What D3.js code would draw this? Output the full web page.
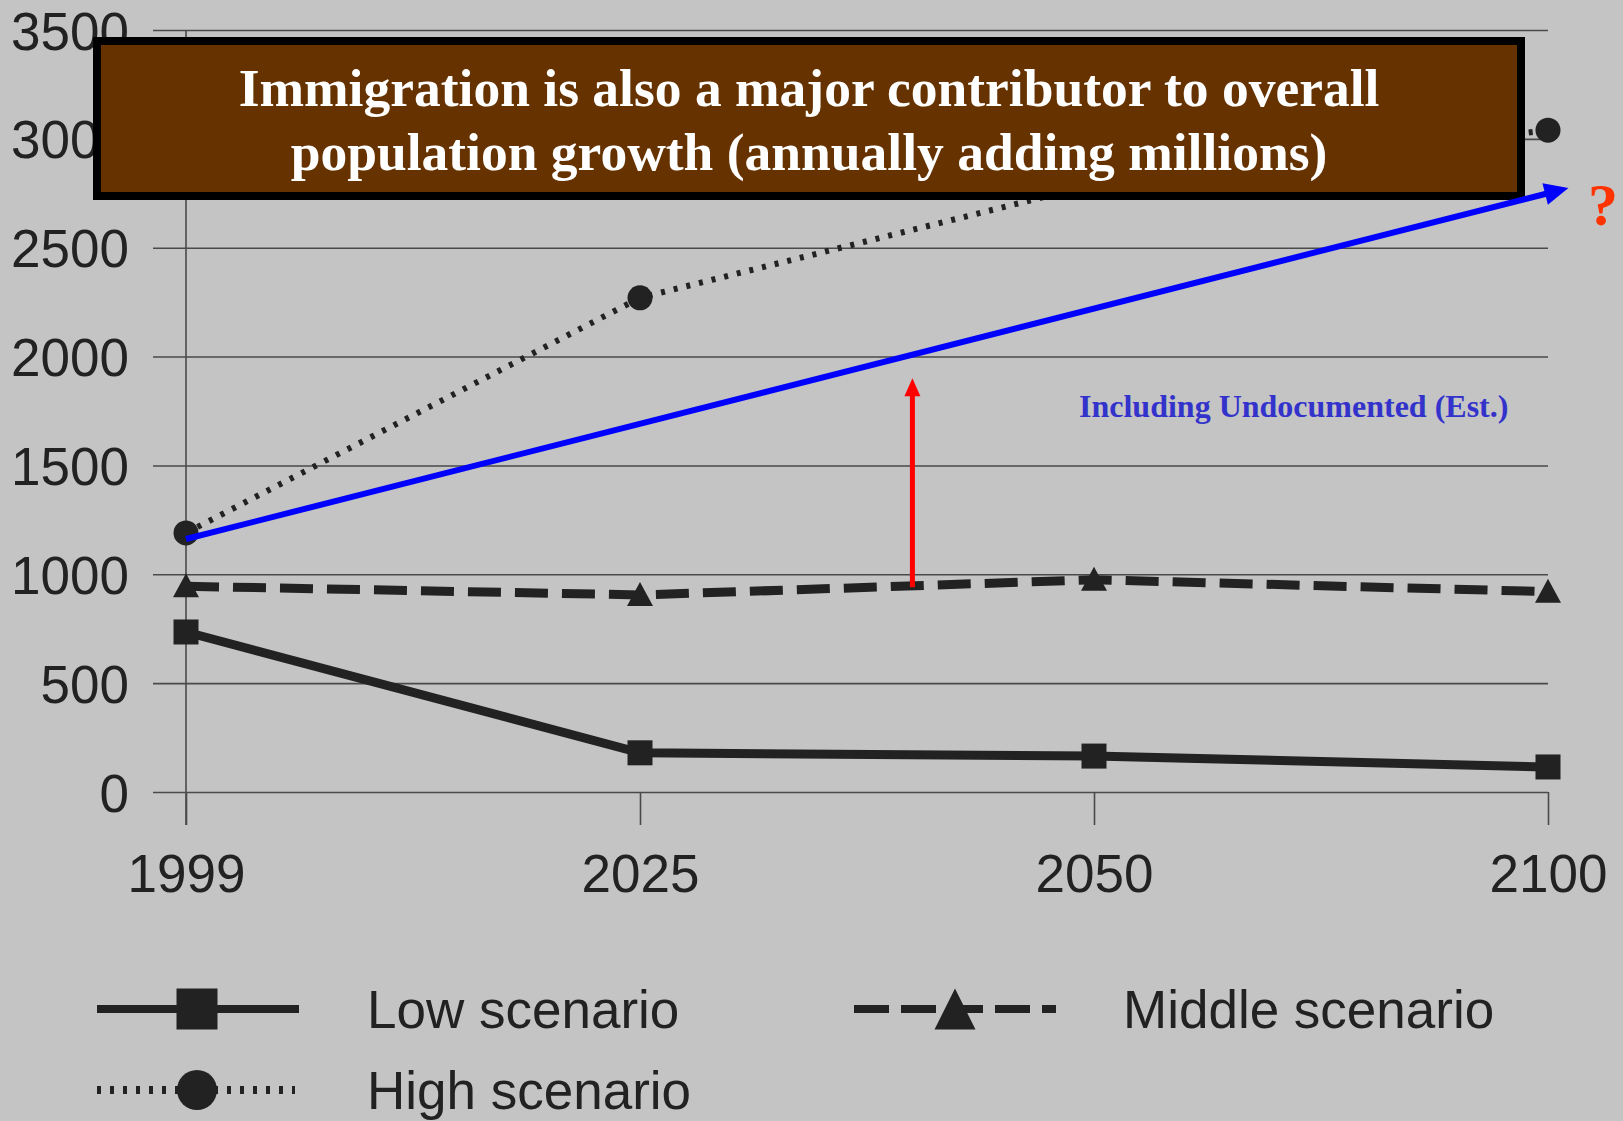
<!DOCTYPE html>
<html>
<head>
<meta charset="utf-8">
<script src="https://cdn.jsdelivr.net/npm/d3@7"></script>
<style>
  html, body { margin: 0; padding: 0; background: #c4c4c4; }
  svg { display: block; }
</style>
</head>
<body>
<svg id="chart" width="1623" height="1121"></svg>
<script>
// Projection years and scenario values
const years = ["1999", "2025", "2050", "2100"];
const lowScenario = [735, 180, 165, 115];
const middleScenario = [945, 905, 975, 920];
const highScenario = [1190, 2270, 2790, 3040];
const yTicks = [0, 500, 1000, 1500, 2000, 2500, 3000, 3500];

// Annotation arrows, in (year index, value) terms
const undocumentedArrow = [{ i: 0, v: 1162 }, { i: 3.045, v: 2774 }];
const gapArrow = [{ i: 1.6, v: 940 }, { i: 1.6, v: 1900 }];

const titleLines = [
  "Immigration is also a major contributor to overall",
  "population growth (annually adding millions)"
];
const noteText = "Including Undocumented (Est.)";
const legendItems = [
  { name: "Low scenario", key: "low" },
  { name: "Middle scenario", key: "mid" },
  { name: "High scenario", key: "high" }
];

const svg = d3.select("#chart");
const ink = "#222";
const sans = "'Liberation Sans', Arial, sans-serif";
const serif = "'Liberation Serif', 'Times New Roman', serif";

const x = d3.scalePoint().domain(years).range([186, 1548]);
const xi = d3.scaleLinear().domain([0, years.length - 1]).range([186, 1548]);
const y = d3.scaleLinear().domain([0, 3500]).range([792, 30]);

// Gridlines
const grid = svg.append("g").attr("transform", "translate(153,0)")
  .call(d3.axisRight(y).tickValues(yTicks).tickSize(1548 - 153).tickFormat(""));
grid.select(".domain").remove();
grid.selectAll(".tick line").attr("stroke", "#4a4a4a").attr("stroke-width", 1.6);

// Y labels
const yLab = svg.append("g").attr("transform", "translate(153,0)")
  .call(d3.axisLeft(y).tickValues(yTicks).tickSize(0).tickPadding(24).tickFormat(d3.format("d")));
yLab.select(".domain").remove();
yLab.selectAll("text")
  .attr("font-family", sans).attr("font-size", 53).attr("fill", ink).attr("dy", "0.36em");

// Vertical axis line
svg.append("line")
  .attr("x1", 186).attr("x2", 186).attr("y1", y(3500)).attr("y2", 825)
  .attr("stroke", "#4a4a4a").attr("stroke-width", 1.6);

// X axis ticks and labels
const xAx = svg.append("g").attr("transform", `translate(0,${y(0)})`)
  .call(d3.axisBottom(x).tickSize(33).tickPadding(29));
xAx.select(".domain").remove();
xAx.selectAll(".tick line").attr("stroke", "#4a4a4a").attr("stroke-width", 1.6);
xAx.selectAll("text").attr("font-family", sans).attr("font-size", 53).attr("fill", ink);

// Series
const line = d3.line().x((d, i) => x(years[i])).y(d => y(d));

function squareAt(g, cx, cy, s) {
  g.append("rect").attr("x", cx - s / 2).attr("y", cy - s / 2)
    .attr("width", s).attr("height", s).attr("fill", ink);
}
function triangleAt(g, cx, cy, w, h) {
  g.append("path")
    .attr("d", `M${cx},${cy - h / 2}L${cx + w / 2},${cy + h / 2}L${cx - w / 2},${cy + h / 2}Z`)
    .attr("fill", ink);
}
function circleAt(g, cx, cy, r) {
  g.append("circle").attr("cx", cx).attr("cy", cy).attr("r", r).attr("fill", ink);
}

const series = svg.append("g");
series.append("path").datum(highScenario).attr("d", line)
  .attr("fill", "none").attr("stroke", ink).attr("stroke-width", 6)
  .attr("stroke-dasharray", "4,9");
series.append("path").datum(middleScenario).attr("d", line)
  .attr("fill", "none").attr("stroke", ink).attr("stroke-width", 9)
  .attr("stroke-dasharray", "33,14");
series.append("path").datum(lowScenario).attr("d", line)
  .attr("fill", "none").attr("stroke", ink).attr("stroke-width", 9);

highScenario.forEach((v, i) => circleAt(series, x(years[i]), y(v), 12.5));
middleScenario.forEach((v, i) => triangleAt(series, x(years[i]), y(v) - 1, 26, 24));
lowScenario.forEach((v, i) => squareAt(series, x(years[i]), y(v), 25));

// Title box
svg.append("rect")
  .attr("x", 97).attr("y", 41).attr("width", 1424).attr("height", 155)
  .attr("fill", "#663300").attr("stroke", "#000").attr("stroke-width", 8);
svg.append("g").selectAll("text").data(titleLines).join("text")
  .attr("x", 809).attr("y", (d, i) => 106 + i * 64)
  .attr("text-anchor", "middle")
  .attr("font-family", serif).attr("font-weight", "bold").attr("font-size", 53.5)
  .attr("fill", "#fff")
  .text(d => d);

// Arrow helper
function arrow(pts, color, width, headLen, headW) {
  const x1 = xi(pts[0].i), y1 = y(pts[0].v), x2 = xi(pts[1].i), y2 = y(pts[1].v);
  const ang = Math.atan2(y2 - y1, x2 - x1);
  const bx = x2 - headLen * Math.cos(ang), by = y2 - headLen * Math.sin(ang);
  const px = -Math.sin(ang) * headW / 2, py = Math.cos(ang) * headW / 2;
  svg.append("line").attr("x1", x1).attr("y1", y1)
    .attr("x2", bx + Math.cos(ang)).attr("y2", by + Math.sin(ang))
    .attr("stroke", color).attr("stroke-width", width);
  svg.append("path")
    .attr("d", `M${x2},${y2}L${bx + px},${by + py}L${bx - px},${by - py}Z`)
    .attr("fill", color);
}
arrow(undocumentedArrow, "#0000ff", 6, 24, 22);
arrow(gapArrow, "#ff0000", 5, 18, 16);

// Note text
svg.append("text")
  .attr("x", 1079).attr("y", 417)
  .attr("font-family", serif).attr("font-weight", "bold").attr("font-size", 32)
  .attr("fill", "#3333cc")
  .text(noteText);

svg.append("text")
  .attr("x", 1588).attr("y", 225)
  .attr("font-family", serif).attr("font-weight", "bold").attr("font-size", 60)
  .attr("fill", "#ff3300")
  .text("?");

// Legend
const legendPos = {
  low: { x0: 97, x1: 299, cy: 1009, tx: 367, mx: 197 },
  mid: { x0: 854, x1: 1056, cy: 1009, tx: 1123, mx: 955 },
  high: { x0: 97, x1: 295, cy: 1090, tx: 367, mx: 197 }
};
const legend = svg.append("g");
legendItems.forEach(item => {
  const p = legendPos[item.key];
  const ln = legend.append("line").attr("x1", p.x0).attr("x2", p.x1)
    .attr("y1", p.cy).attr("y2", p.cy).attr("stroke", ink).attr("stroke-width", 8);
  if (item.key === "low") {
    squareAt(legend, p.mx, p.cy, 41);
  } else if (item.key === "mid") {
    ln.attr("stroke-dasharray", "35,12");
    triangleAt(legend, p.mx, p.cy, 41, 41);
  } else {
    ln.attr("stroke-dasharray", "4,9");
    circleAt(legend, p.mx, p.cy, 20);
  }
  legend.append("text").attr("x", p.tx).attr("y", p.cy + 19)
    .attr("font-family", sans).attr("font-size", 53).attr("fill", ink)
    .text(item.name);
});
</script>
</body>
</html>
